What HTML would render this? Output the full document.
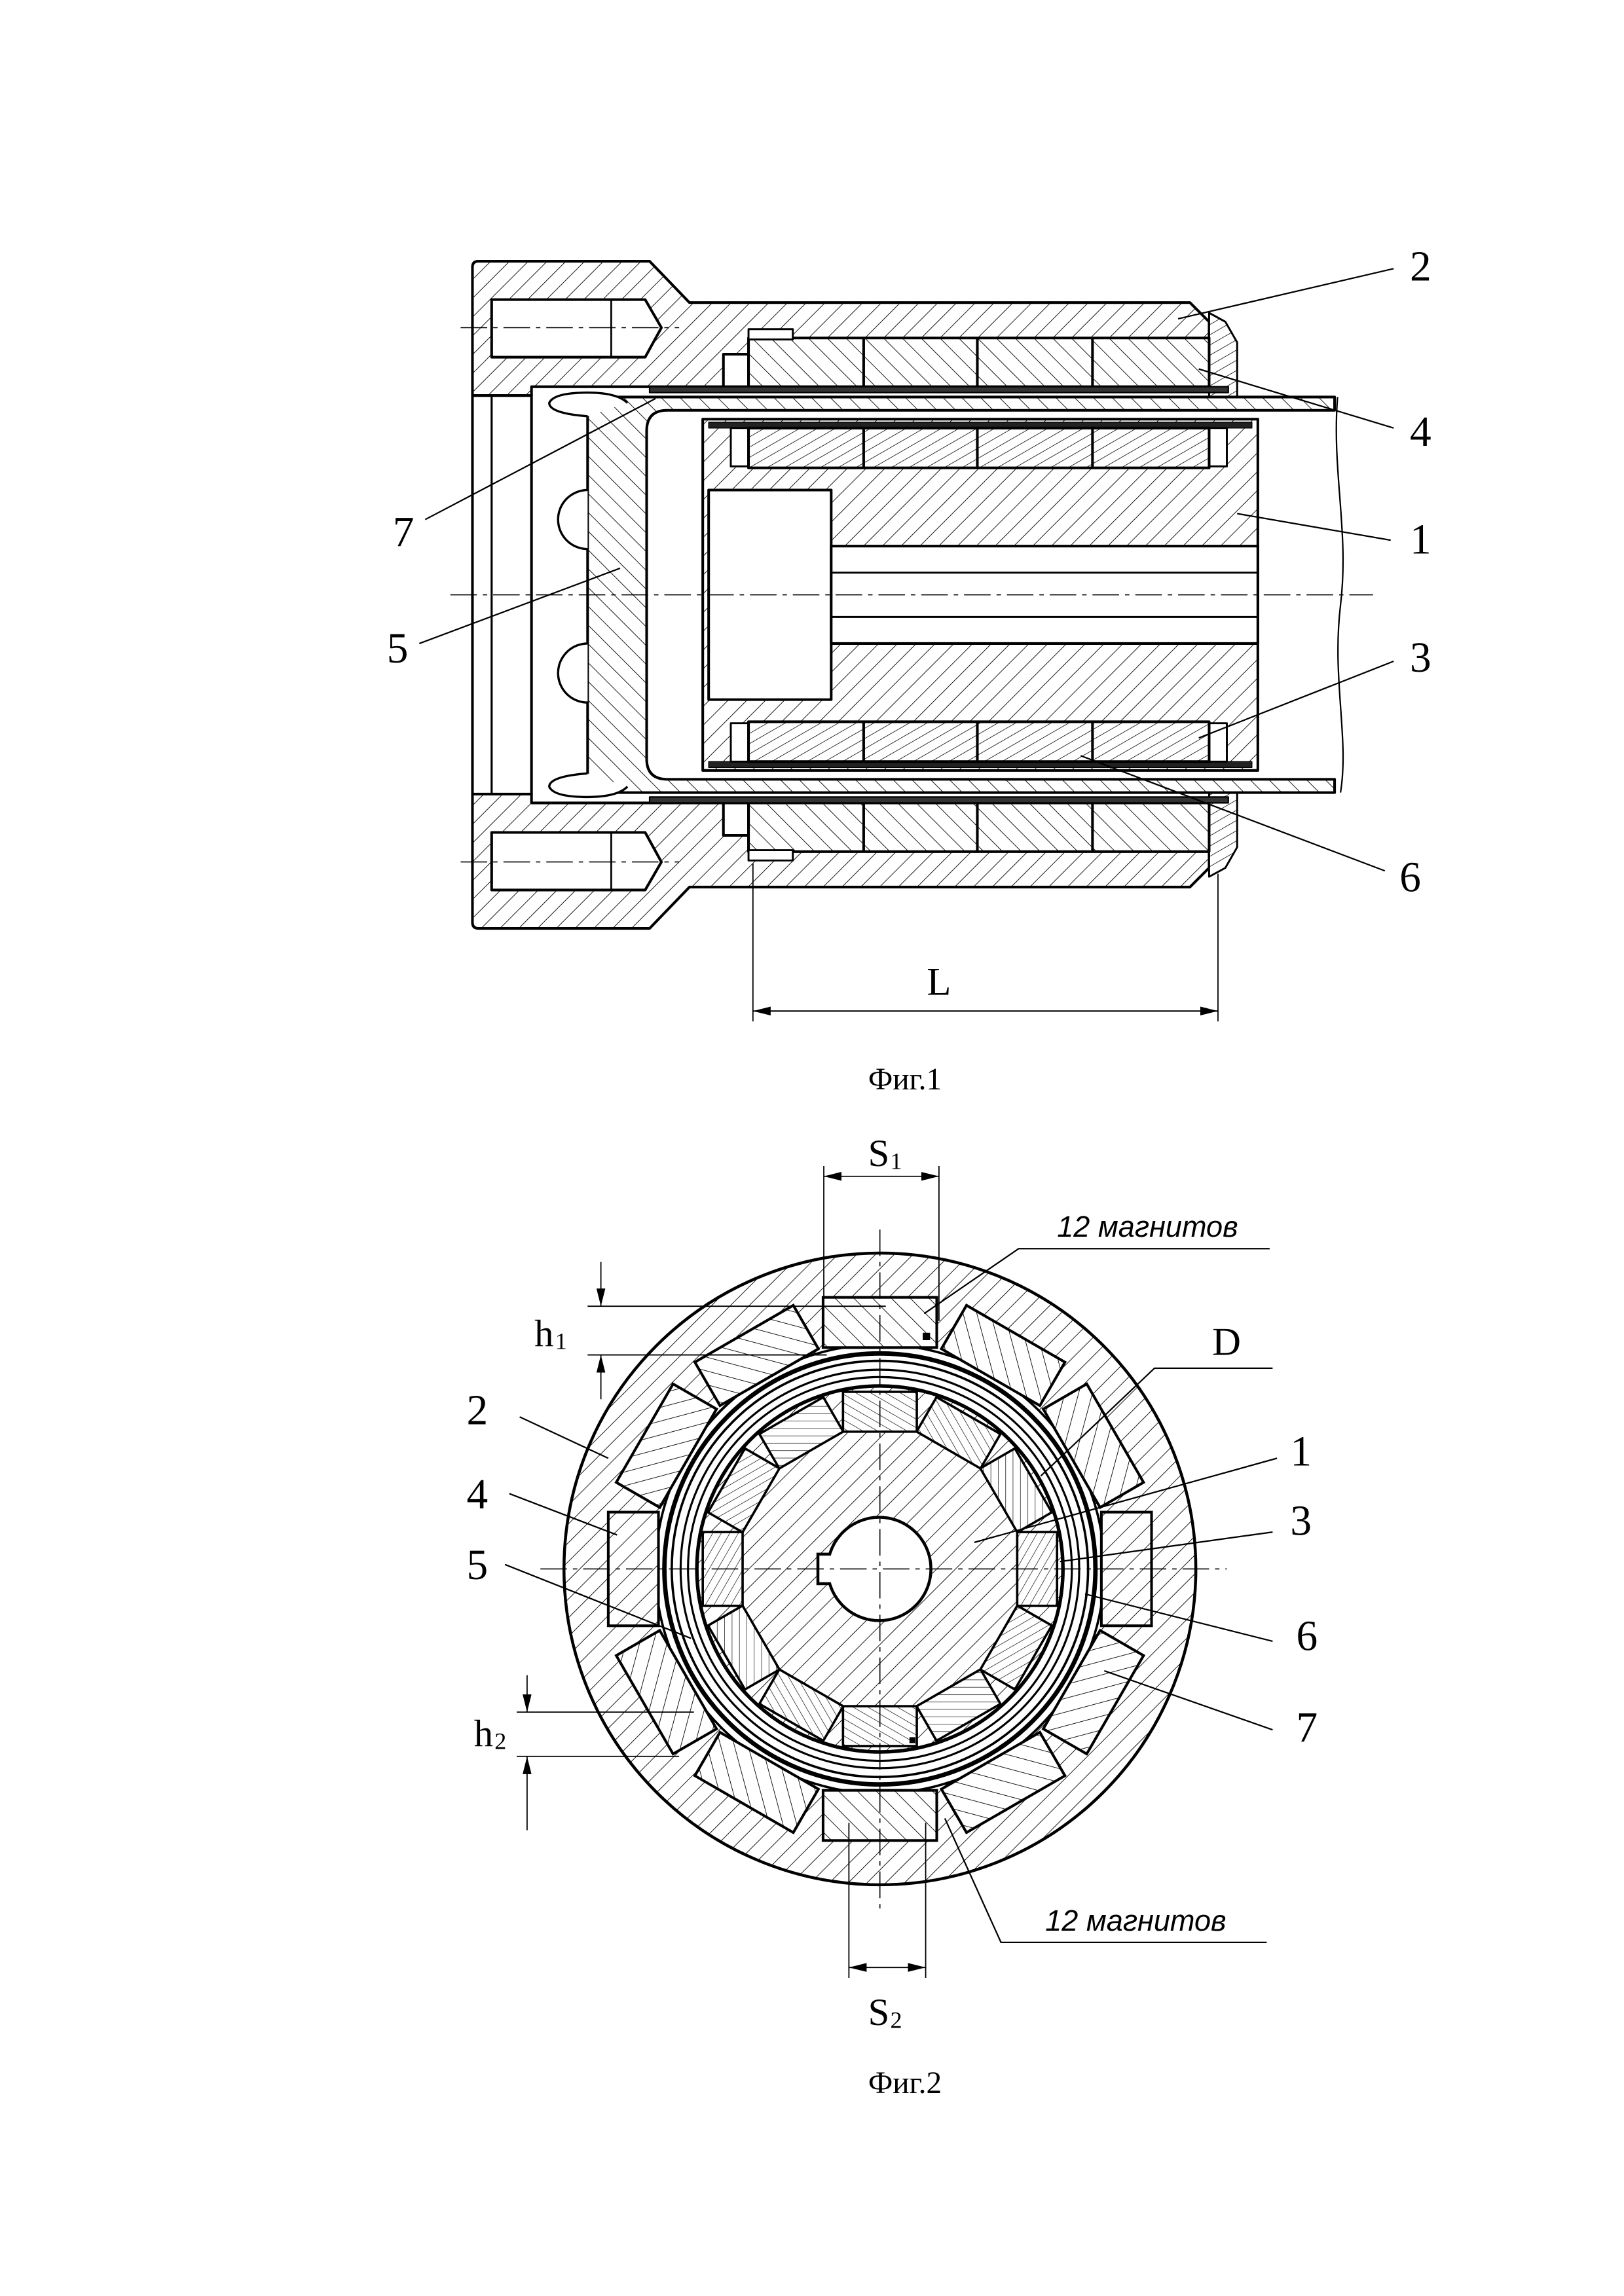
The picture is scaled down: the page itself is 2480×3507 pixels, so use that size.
<!DOCTYPE html>
<html><head><meta charset="utf-8">
<style>
html,body{margin:0;padding:0;background:#fff;}
svg{display:block;}
text{font-family:"Liberation Serif",serif;fill:#000;}
.it{font-family:"Liberation Sans",sans-serif;font-style:italic;}
</style></head>
<body>
<svg width="2480" height="3507" viewBox="0 0 1100 1555.6" xmlns="http://www.w3.org/2000/svg">
<defs>
<pattern id="h1" patternUnits="userSpaceOnUse" width="9" height="9" patternTransform="rotate(45)">
<rect width="9" height="9" fill="#fff"/><line x1="0" y1="0" x2="0" y2="9" stroke="#000" stroke-width="0.8"/></pattern>
<pattern id="h2" patternUnits="userSpaceOnUse" width="9" height="9" patternTransform="rotate(-45)">
<rect width="9" height="9" fill="#fff"/><line x1="0" y1="0" x2="0" y2="9" stroke="#000" stroke-width="0.8"/></pattern>
<pattern id="h3" patternUnits="userSpaceOnUse" width="6" height="6" patternTransform="rotate(60)">
<rect width="6" height="6" fill="#fff"/><line x1="0" y1="0" x2="0" y2="6" stroke="#000" stroke-width="0.7"/></pattern>
<pattern id="h4" patternUnits="userSpaceOnUse" width="5" height="5" patternTransform="rotate(-60)">
<rect width="5" height="5" fill="#fff"/><line x1="0" y1="0" x2="0" y2="5" stroke="#000" stroke-width="0.6"/></pattern>
<marker id="ar" viewBox="0 0 12 6" refX="12" refY="3" markerWidth="12" markerHeight="6" markerUnits="userSpaceOnUse" orient="auto">
<path d="M0,0 L12,3 L0,6 Z" fill="#000"/></marker>
</defs>

<!-- ================= FIG 1 ================= -->
<g stroke="#000" stroke-width="1.8" stroke-linejoin="round">
<!-- housing top -->
<path d="M320,181 Q320,177 324,177 L440,177 L467,205 L806,205 L819,218 L819,262 L360,262 L360,268 L320,268 Z" fill="url(#h1)"/>
<!-- housing bottom -->
<path d="M320,625 Q320,629 324,629 L440,629 L467,601 L806,601 L819,588 L819,544 L360,544 L360,538 L320,538 Z" fill="url(#h1)"/>
<!-- bolt holes -->
<path d="M333,203 L437,203 L448,222 L437,242 L333,242 Z" fill="#fff"/>
<path d="M333,564 L437,564 L448,584 L437,603 L333,603 Z" fill="#fff"/>
<line x1="414" y1="203" x2="414" y2="242" stroke-width="1.2"/>
<line x1="414" y1="564" x2="414" y2="603" stroke-width="1.2"/>
<!-- flange bore strip -->
<rect x="320" y="268" width="40" height="270" fill="#fff"/>
<line x1="333" y1="268" x2="333" y2="538" stroke-width="1.4"/>
<!-- end cap pieces -->
<path d="M819,212 L830,218 L838,232 L838,270 L819,270 Z" fill="url(#h3)" stroke-width="1.3"/>
<path d="M819,594 L830,588 L838,574 L838,536 L819,536 Z" fill="url(#h3)" stroke-width="1.3"/>
<!-- stator magnets top/bottom -->
<rect x="490" y="240" width="17" height="22" fill="#fff"/>
<rect x="507" y="229" width="312" height="33" fill="url(#h2)"/>
<rect x="507" y="223" width="30" height="7" fill="#fff" stroke-width="1.3"/>
<line x1="585" y1="229" x2="585" y2="262"/><line x1="662" y1="229" x2="662" y2="262"/><line x1="740" y1="229" x2="740" y2="262"/>
<rect x="490" y="544" width="17" height="22" fill="#fff"/>
<rect x="507" y="544" width="312" height="33" fill="url(#h2)"/>
<rect x="507" y="576" width="30" height="7" fill="#fff" stroke-width="1.3"/>
<line x1="585" y1="544" x2="585" y2="577"/><line x1="662" y1="544" x2="662" y2="577"/><line x1="740" y1="544" x2="740" y2="577"/>
<!-- sleeves -->
<rect x="440" y="262" width="392" height="4" fill="#333" stroke-width="1"/>
<rect x="440" y="540" width="392" height="4" fill="#333" stroke-width="1"/>
<!-- cup 5 -->
<path d="M904,269 L412,269 Q398,269 398,283 L398,523 Q398,537 412,537 L904,537 L904,528 L452,528 Q438,528 438,514 L438,292 Q438,278 452,278 L904,278 Z" fill="url(#h2)"/>
<!-- balls -->
<path d="M398,282 Q372,280 372,273 Q375,266 398,266 Q418,266 425,273" fill="#fff" stroke-width="1.5"/>
<path d="M398,524 Q372,526 372,533 Q375,540 398,540 Q418,540 425,533" fill="#fff" stroke-width="1.5"/>
<path d="M398,332 A20,20 0 0 0 398,372" fill="#fff" stroke-width="1.5"/>
<path d="M398,436 A20,20 0 0 0 398,476" fill="#fff" stroke-width="1.5"/>
<!-- rotor 1 -->
<rect x="476" y="284" width="376" height="238" fill="url(#h1)"/>
<rect x="480" y="286" width="368" height="4" fill="#222" stroke-width="0.6"/>
<rect x="480" y="516" width="368" height="4" fill="#222" stroke-width="0.6"/>
<rect x="480" y="332" width="83" height="142" fill="#fff"/>
<rect x="563" y="370" width="289" height="66" fill="#fff"/>
<line x1="563" y1="388" x2="852" y2="388" stroke-width="1.3"/>
<line x1="563" y1="418" x2="852" y2="418" stroke-width="1.3"/>
<!-- rotor magnets -->
<rect x="495" y="290" width="12" height="26" fill="#fff" stroke-width="1.3"/>
<rect x="819" y="290" width="12" height="26" fill="#fff" stroke-width="1.3"/>
<rect x="507" y="290" width="312" height="27" fill="url(#h3)"/>
<line x1="585" y1="290" x2="585" y2="317"/><line x1="662" y1="290" x2="662" y2="317"/><line x1="740" y1="290" x2="740" y2="317"/>
<rect x="495" y="490" width="12" height="26" fill="#fff" stroke-width="1.3"/>
<rect x="819" y="490" width="12" height="26" fill="#fff" stroke-width="1.3"/>
<rect x="507" y="489" width="312" height="27" fill="url(#h3)"/>
<line x1="585" y1="489" x2="585" y2="516"/><line x1="662" y1="489" x2="662" y2="516"/><line x1="740" y1="489" x2="740" y2="516"/>
</g>
<!-- break line -->
<path d="M906,269 C902,320 914,360 908,410 C902,460 914,500 908,537" fill="none" stroke="#000" stroke-width="1"/>
<!-- centerlines -->
<g stroke="#000" stroke-width="0.7" stroke-dasharray="18,4,3,4" fill="none">
<line x1="305" y1="403" x2="930" y2="403"/>
<line x1="312" y1="222" x2="460" y2="222"/>
<line x1="312" y1="584" x2="460" y2="584"/>
</g>
<!-- dimension L -->
<g stroke="#000" stroke-width="0.8" fill="none">
<line x1="510" y1="585" x2="510" y2="692"/>
<line x1="825" y1="592" x2="825" y2="692"/>
<line x1="510" y1="685" x2="825" y2="685" marker-end="url(#ar)"/>
<line x1="825" y1="685" x2="510" y2="685" marker-end="url(#ar)"/>
</g>
<text x="636" y="674" font-size="27" text-anchor="middle">L</text>
<!-- fig1 leaders -->
<g stroke="#000" stroke-width="1" fill="none">
<line x1="944" y1="182" x2="798" y2="216"/>
<line x1="944" y1="290" x2="812" y2="250"/>
<line x1="942" y1="366" x2="838" y2="348"/>
<line x1="944" y1="448" x2="812" y2="500"/>
<line x1="938" y1="590" x2="732" y2="512"/>
<line x1="288" y1="352" x2="444" y2="270"/>
<line x1="284" y1="436" x2="420" y2="385"/>
</g>
<g font-size="29">
<text x="955" y="190">2</text>
<text x="955" y="302">4</text>
<text x="955" y="375">1</text>
<text x="955" y="455">3</text>
<text x="948" y="604">6</text>
<text x="266" y="370">7</text>
<text x="262" y="449">5</text>
</g>
<text x="613" y="738" font-size="21" text-anchor="middle">Фиг.1</text>

<!-- ================= FIG 2 ================= -->
<g transform="translate(596,1063)">
<circle r="214" fill="url(#h1)" stroke="#000" stroke-width="2"/>
<circle r="152" fill="#fff" stroke="#000" stroke-width="1.6"/>
<g stroke="#000" stroke-width="1.8">
<g id="sm"><rect x="-38.5" y="-184" width="77" height="34" fill="url(#h2)"/></g>
<use href="#sm" transform="rotate(30)"/><use href="#sm" transform="rotate(60)"/><use href="#sm" transform="rotate(90)"/>
<use href="#sm" transform="rotate(120)"/><use href="#sm" transform="rotate(150)"/><use href="#sm" transform="rotate(180)"/>
<use href="#sm" transform="rotate(210)"/><use href="#sm" transform="rotate(240)"/><use href="#sm" transform="rotate(270)"/>
<use href="#sm" transform="rotate(300)"/><use href="#sm" transform="rotate(330)"/>
</g>
<circle r="146" fill="none" stroke="#000" stroke-width="3"/>
<circle r="141" fill="#fff" stroke="#000" stroke-width="1.6"/>
<circle r="135" fill="none" stroke="#000" stroke-width="1.4"/>
<circle r="130" fill="none" stroke="#000" stroke-width="1.4"/>
<circle r="124" fill="url(#h1)" stroke="#000" stroke-width="2.4"/>
<g stroke="#000" stroke-width="1.6">
<g id="rm"><rect x="-25" y="-120" width="50" height="27" fill="url(#h4)"/></g>
<use href="#rm" transform="rotate(30)"/><use href="#rm" transform="rotate(60)"/><use href="#rm" transform="rotate(90)"/>
<use href="#rm" transform="rotate(120)"/><use href="#rm" transform="rotate(150)"/><use href="#rm" transform="rotate(180)"/>
<use href="#rm" transform="rotate(210)"/><use href="#rm" transform="rotate(240)"/><use href="#rm" transform="rotate(270)"/>
<use href="#rm" transform="rotate(300)"/><use href="#rm" transform="rotate(330)"/>
</g>
<path d="M-34,-10 A35,35 0 1 1 -34,10 L-42,10 L-42,-10 Z" fill="#fff" stroke="#000" stroke-width="2"/>
<g stroke="#000" stroke-width="0.7" stroke-dasharray="18,4,3,4">
<line x1="-230" y1="0" x2="235" y2="0"/>
<line x1="0" y1="-230" x2="0" y2="232"/>
</g>
<rect x="29" y="-160" width="5" height="5" fill="#000"/>
<rect x="20" y="114" width="4" height="4" fill="#000"/>
</g>
<!-- fig2 dims -->
<g stroke="#000" stroke-width="0.8" fill="none">
<line x1="558" y1="790" x2="558" y2="895"/>
<line x1="636" y1="790" x2="636" y2="895"/>
<line x1="597" y1="797" x2="558" y2="797" marker-end="url(#ar)"/>
<line x1="597" y1="797" x2="636" y2="797" marker-end="url(#ar)"/>
<line x1="575" y1="1235" x2="575" y2="1340"/>
<line x1="627" y1="1235" x2="627" y2="1340"/>
<line x1="601" y1="1333" x2="575" y2="1333" marker-end="url(#ar)"/>
<line x1="601" y1="1333" x2="627" y2="1333" marker-end="url(#ar)"/>
<line x1="398" y1="885" x2="600" y2="885"/>
<line x1="398" y1="918" x2="560" y2="918"/>
<line x1="407" y1="855" x2="407" y2="885" marker-end="url(#ar)"/>
<line x1="407" y1="948" x2="407" y2="918" marker-end="url(#ar)"/>
<line x1="350" y1="1160" x2="470" y2="1160"/>
<line x1="350" y1="1190" x2="460" y2="1190"/>
<line x1="357" y1="1135" x2="357" y2="1160" marker-end="url(#ar)"/>
<line x1="357" y1="1240" x2="357" y2="1190" marker-end="url(#ar)"/>
</g>
<text x="588" y="790" font-size="26">S</text><text x="603" y="792" font-size="16">1</text>
<text x="588" y="1372" font-size="26">S</text><text x="603" y="1374" font-size="16">2</text>
<text x="362" y="912" font-size="26">h</text><text x="376" y="914" font-size="16">1</text>
<text x="321" y="1183" font-size="26">h</text><text x="335" y="1185" font-size="16">2</text>
<text x="821" y="918" font-size="27">D</text>
<!-- fig2 leaders -->
<g stroke="#000" stroke-width="1" fill="none">
<path d="M860,846 L690,846 L626,890"/>
<path d="M862,927 L782,927 L705,1000"/>
<path d="M858,1316 L678,1316 L640,1232"/>
<line x1="352" y1="960" x2="412" y2="988"/>
<line x1="345" y1="1012" x2="418" y2="1040"/>
<line x1="342" y1="1060" x2="468" y2="1110"/>
<line x1="865" y1="988" x2="660" y2="1045"/>
<line x1="862" y1="1038" x2="718" y2="1058"/>
<line x1="862" y1="1112" x2="735" y2="1080"/>
<line x1="862" y1="1172" x2="748" y2="1132"/>
</g>
<text class="it" x="716" y="838" font-size="20" transform="skewX(0)">12 магнитов</text>
<text class="it" x="708" y="1308" font-size="20">12 магнитов</text>
<g font-size="29">
<text x="316" y="965">2</text>
<text x="316" y="1022">4</text>
<text x="316" y="1070">5</text>
<text x="874" y="993">1</text>
<text x="874" y="1040">3</text>
<text x="878" y="1118">6</text>
<text x="878" y="1180">7</text>
</g>
<text x="613" y="1418" font-size="21" text-anchor="middle">Фиг.2</text>
</svg>
</body></html>
